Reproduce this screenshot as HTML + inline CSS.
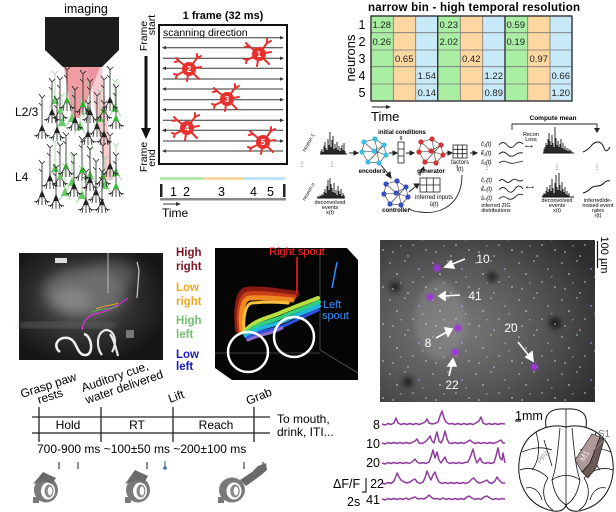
<!DOCTYPE html>
<html><head><meta charset="utf-8"><style>
html,body{margin:0;padding:0;background:#fff;width:616px;height:512px;overflow:hidden}
svg{display:block}
text{font-family:"Liberation Sans",Arial,sans-serif}
</style></head><body>
<svg width="616" height="512" viewBox="0 0 616 512" xmlns="http://www.w3.org/2000/svg">
<defs>
  <symbol id="nr" overflow="visible">
    <path d="M0,-30V0M0,-30l-3,-4M0,-30l3,-3M0,-22l-3,-3M-1,2l-5,7M1,2l5,7M0,2V11M-4,7l-4,1M4,7l4,1M-3,6l-1,5M3,6l1,5" stroke="#222" stroke-width=".8" fill="none"/>
    <path d="M-3,3L0,-4L3,3Z"/>
  </symbol>
  <symbol id="gn" overflow="visible">
    <path d="M0,-26V0M0,-26l-3,-3M0,-26l3,-3M-1,2l-5,6M1,2l5,6" stroke="#9c9" stroke-width=".8" fill="none"/>
    <path d="M-4,4L0,-5L4,4Z" fill="#6c6"/>
  </symbol>
  <symbol id="rn" overflow="visible">
    <path d="M0,0l-10,-8l-3,-3M-10,-8l-4,1M0,0l8,-11l0,-4M8,-11l4,-2M0,0l12,-2M0,0l10,10M0,0l-2,12M0,0l-12,6l-3,-1M-12,6l-1,3" stroke="#e8302c" stroke-width="2" fill="none" stroke-linecap="round"/>
    <circle r="7" fill="#e8302c"/>
  </symbol>
  <symbol id="net" overflow="visible">
    <path d="M-10,-9L1,-12L10,-6L12,4L5,12L-6,11L-12,1Z M-10,-9L0,0L12,4 M1,-12L5,12 M10,-6L-6,11 M0,0L-12,1 M0,0L10,-6" stroke="#333" stroke-width=".6" fill="none"/>
    <circle cx="-10" cy="-9" r="2.6"/><circle cx="1" cy="-12" r="2.6"/><circle cx="10" cy="-6" r="2.6"/><circle cx="12" cy="4" r="2.6"/><circle cx="5" cy="12" r="2.6"/><circle cx="-6" cy="11" r="2.6"/><circle cx="-12" cy="1" r="2.6"/><circle cx="0" cy="0" r="2.6"/>
  </symbol>
  <pattern id="dots" width="43" height="37" patternUnits="userSpaceOnUse">
    <rect x="2" y="3" width="2" height="2" fill="#c0a8d0" opacity=".55"/>
    <rect x="17" y="1" width="2" height="2" fill="#a8d0b0" opacity=".45"/>
    <rect x="9" y="14" width="2" height="2" fill="#ddd0c8" opacity=".5"/>
    <rect x="31" y="9" width="2" height="2" fill="#a8a8e0" opacity=".5"/>
    <rect x="25" y="22" width="2" height="2" fill="#e0b8b8" opacity=".45"/>
    <rect x="38" y="27" width="2" height="2" fill="#c8c8c8" opacity=".5"/>
    <rect x="5" y="29" width="2" height="2" fill="#b8d8c8" opacity=".45"/>
    <rect x="20" y="33" width="2" height="2" fill="#c8b0e0" opacity=".5"/>
    <rect x="13" y="23" width="1.5" height="1.5" fill="#e8e8e8" opacity=".4"/>
    <rect x="35" y="17" width="1.5" height="1.5" fill="#e8e8e8" opacity=".4"/>
  </pattern>
  <radialGradient id="tp" cx="0.35" cy="0.55" r="0.75">
    <stop offset="0" stop-color="#7a7a7a"/><stop offset=".55" stop-color="#555"/><stop offset="1" stop-color="#2e2e2e"/>
  </radialGradient>
  <radialGradient id="ms" cx="0.45" cy="0.45" r="0.6">
    <stop offset="0" stop-color="#5a5a5a"/><stop offset=".6" stop-color="#2e2e2e"/><stop offset="1" stop-color="#161616"/>
  </radialGradient>
  <filter id="bl"><feGaussianBlur stdDeviation="3"/></filter>
  <filter id="bl6"><feGaussianBlur stdDeviation="6"/></filter>
  <filter id="bl2"><feGaussianBlur stdDeviation="1"/></filter>
</defs>

<!-- ============ IMAGING ============ -->
<text x="86" y="13" font-size="12.5" text-anchor="middle">imaging</text>
<path d="M45,17H119V50L102,67H63L45,50Z" fill="#1c1c1c"/>
<polygon points="64,67 100,67 80,118 72,118" fill="#e24a58" opacity=".55"/>
<polygon points="88,67 102,67 113,180 106,180" fill="#eb8f98" opacity=".45"/>
<g>
  <use href="#gn" x="55" y="100"/><use href="#gn" x="72" y="118"/><use href="#gn" x="88" y="110"/><use href="#gn" x="100" y="118"/><use href="#gn" x="115" y="108"/>
  <use href="#gn" x="62" y="122"/><use href="#gn" x="80" y="126"/>
  <use href="#nr" x="42" y="128" fill="#222"/><use href="#nr" x="52" y="112" fill="#222"/><use href="#nr" x="60" y="110" fill="#6c6"/>
  <use href="#nr" x="67" y="100" fill="#3a3"/><use href="#nr" x="75" y="120" fill="#222"/><use href="#nr" x="83" y="104" fill="#2b2"/>
  <use href="#nr" x="90" y="112" fill="#222"/><use href="#nr" x="97" y="126" fill="#222"/><use href="#nr" x="104" y="110" fill="#5a3"/>
  <use href="#nr" x="110" y="100" fill="#222"/><use href="#nr" x="116" y="118" fill="#3b3"/><use href="#nr" x="57" y="130" fill="#222"/>
  <use href="#nr" x="88" y="134" fill="#222"/><use href="#nr" x="104" y="134" fill="#222"/>

  <use href="#gn" x="55" y="168"/><use href="#gn" x="72" y="182"/><use href="#gn" x="90" y="175"/><use href="#gn" x="105" y="185"/><use href="#gn" x="116" y="172"/>
  <use href="#gn" x="65" y="192"/><use href="#gn" x="82" y="195"/>
  <use href="#nr" x="42" y="194" fill="#222"/><use href="#nr" x="50" y="178" fill="#222"/><use href="#nr" x="60" y="176" fill="#6c6"/>
  <use href="#nr" x="66" y="166" fill="#3a3"/><use href="#nr" x="74" y="186" fill="#222"/><use href="#nr" x="82" y="170" fill="#2b2"/>
  <use href="#nr" x="90" y="180" fill="#222"/><use href="#nr" x="96" y="192" fill="#222"/><use href="#nr" x="103" y="176" fill="#5a3"/>
  <use href="#nr" x="110" y="166" fill="#222"/><use href="#nr" x="116" y="186" fill="#3b3"/><use href="#nr" x="56" y="198" fill="#222"/>
  <use href="#nr" x="86" y="202" fill="#222"/><use href="#nr" x="102" y="202" fill="#222"/>
</g>
<text x="15" y="116" font-size="12">L2/3</text>
<text x="15" y="181" font-size="12">L4</text>

<!-- ============ FRAME ============ -->
<text transform="translate(147,36) rotate(-90)" font-size="10.5" text-anchor="middle">Frame</text>
<text transform="translate(155,25) rotate(-90)" font-size="10.5" text-anchor="middle">start</text>
<line x1="146" y1="56" x2="146" y2="130" stroke="#111" stroke-width="3"/>
<polygon points="141,128 151,128 146,139" fill="#111"/>
<text transform="translate(147,157) rotate(-90)" font-size="10.5" text-anchor="middle">Frame</text>
<text transform="translate(155,158) rotate(-90)" font-size="10.5" text-anchor="middle">end</text>
<text x="223" y="19" font-size="11" font-weight="bold" text-anchor="middle">1 frame (32 ms)</text>
<rect x="159" y="25" width="128" height="139" fill="#fff" stroke="#111" stroke-width="2"/>
<text x="163" y="36" font-size="10.5">scanning direction</text>
<g stroke="#333" stroke-width="1">
  <line x1="163" y1="37.7" x2="283" y2="37.7"/><line x1="163" y1="47.7" x2="283" y2="47.7"/>
  <line x1="163" y1="58.3" x2="283" y2="58.3"/><line x1="163" y1="68.3" x2="283" y2="68.3"/>
  <line x1="163" y1="79" x2="283" y2="79"/><line x1="163" y1="89" x2="283" y2="89"/>
  <line x1="163" y1="99.7" x2="283" y2="99.7"/><line x1="163" y1="109.7" x2="283" y2="109.7"/>
  <line x1="163" y1="120.3" x2="283" y2="120.3"/><line x1="163" y1="130.3" x2="283" y2="130.3"/>
  <line x1="163" y1="141" x2="283" y2="141"/><line x1="163" y1="151" x2="283" y2="151"/>
</g>
<g fill="#333">
  <polygon points="284,37.7 280,35.9 280,39.5"/><polygon points="162,47.7 166,45.9 166,49.5"/>
  <polygon points="284,58.3 280,56.5 280,60.1"/><polygon points="162,68.3 166,66.5 166,70.1"/>
  <polygon points="284,79 280,77.2 280,80.8"/><polygon points="162,89 166,87.2 166,90.8"/>
  <polygon points="284,99.7 280,97.9 280,101.5"/><polygon points="162,109.7 166,107.9 166,111.5"/>
  <polygon points="284,120.3 280,118.5 280,122.1"/><polygon points="162,130.3 166,128.5 166,132.1"/>
  <polygon points="284,141 280,139.2 280,142.8"/><polygon points="162,151 166,149.2 166,152.8"/>
</g>
<use href="#rn" x="259" y="54"/><use href="#rn" x="189" y="69"/><use href="#rn" x="227" y="99"/><use href="#rn" x="187" y="128"/><use href="#rn" x="263" y="142"/>
<g fill="#fff" font-size="8" font-weight="bold" text-anchor="middle">
  <text x="259" y="57">1</text><text x="189" y="72">2</text><text x="227" y="102">3</text><text x="187" y="131">4</text><text x="263" y="145">5</text>
</g>
<rect x="160" y="177" width="43" height="3" fill="#b8e6b2"/><rect x="203" y="177" width="40" height="3" fill="#f4d9a2"/><rect x="243" y="177" width="42" height="3" fill="#c0e3f3"/>
<rect x="160" y="184" width="2.5" height="13" fill="#222"/><rect x="283" y="184" width="2.5" height="13" fill="#222"/>
<g font-size="12.5"><text x="170" y="196">1</text><text x="183" y="196">2</text><text x="218" y="196">3</text><text x="250" y="196">4</text><text x="267" y="196">5</text></g>
<rect x="160" y="198" width="126" height="2.5" fill="#888"/>
<line x1="163" y1="204" x2="178" y2="204" stroke="#333" stroke-width="1"/><polygon points="181,204 176,202 176,206" fill="#333"/>
<text x="162" y="217" font-size="12">Time</text>

<!-- ============ TABLE ============ -->
<text x="474" y="11" font-size="11.5" font-weight="bold" text-anchor="middle" textLength="212">narrow bin - high temporal resolution</text>
<g>
  <rect x="371" y="16" width="22.3" height="85" fill="#a9eea3"/><rect x="393.3" y="16" width="22.4" height="85" fill="#fcd7a2"/><rect x="415.7" y="16" width="22" height="85" fill="#c8e9f8"/>
  <rect x="437.7" y="16" width="22.6" height="85" fill="#a9eea3"/><rect x="460.3" y="16" width="22.4" height="85" fill="#fcd7a2"/><rect x="482.7" y="16" width="22.3" height="85" fill="#c8e9f8"/>
  <rect x="505" y="16" width="22.7" height="85" fill="#a9eea3"/><rect x="527.7" y="16" width="22.3" height="85" fill="#fcd7a2"/><rect x="550" y="16" width="22" height="85" fill="#c8e9f8"/>
</g>
<g stroke="#777" stroke-width=".8">
  <line x1="371" y1="32.7" x2="572" y2="32.7"/><line x1="371" y1="50" x2="572" y2="50"/><line x1="371" y1="66.7" x2="572" y2="66.7"/><line x1="371" y1="84" x2="572" y2="84"/>
  <line x1="393.3" y1="16" x2="393.3" y2="101"/><line x1="415.7" y1="16" x2="415.7" y2="101"/><line x1="460.3" y1="16" x2="460.3" y2="101"/><line x1="482.7" y1="16" x2="482.7" y2="101"/><line x1="527.7" y1="16" x2="527.7" y2="101"/><line x1="550" y1="16" x2="550" y2="101"/>
</g>
<g stroke="#333" stroke-width="1.4" fill="none">
  <rect x="371" y="16" width="201" height="85"/><line x1="437.7" y1="16" x2="437.7" y2="101"/><line x1="505" y1="16" x2="505" y2="101"/>
</g>
<g font-size="9.5" fill="#222">
  <text x="372.5" y="28">1.28</text><text x="372.5" y="45">0.26</text><text x="395" y="62">0.65</text><text x="417.5" y="79">1.54</text><text x="417.5" y="96">0.14</text>
  <text x="439.5" y="28">0.23</text><text x="439.5" y="45">2.02</text><text x="462" y="62">0.42</text><text x="484.5" y="79">1.22</text><text x="484.5" y="96">0.89</text>
  <text x="506.5" y="28">0.59</text><text x="506.5" y="45">0.19</text><text x="529.5" y="62">0.97</text><text x="551.5" y="79">0.66</text><text x="551.5" y="96">1.20</text>
</g>
<g font-size="12.5" text-anchor="middle"><text x="362" y="29">1</text><text x="362" y="46">2</text><text x="362" y="63">3</text><text x="362" y="80">4</text><text x="362" y="97">5</text></g>
<text transform="translate(355,58) rotate(-90)" font-size="13" text-anchor="middle">neurons</text>
<line x1="372" y1="107" x2="388" y2="107" stroke="#222" stroke-width="1"/><polygon points="391,107 386,105 386,109" fill="#222"/>
<text x="371" y="121" font-size="13">Time</text>

<!-- ============ LFADS ============ -->
<text transform="translate(305,152) rotate(-60)" font-size="5">neuron 1</text>
<path d="M320,154h27M321,154v-3M322,154v-5M323,154v-2M324,154v-8M325,154v-12M326,154v-6M327,154v-4M328,154v-15M329,154v-9M330,154v-22M331,154v-7M332,154v-14M333,154v-18M334,154v-5M335,154v-10M336,154v-6M337,154v-12M338,154v-4M339,154v-8M340,154v-3M341,154v-6M342,154v-9M343,154v-4M344,154v-11M345,154v-3" stroke="#111" stroke-width=".9"/>
<text x="302" y="166" font-size="6" text-anchor="middle">⋮</text><text x="332" y="166" font-size="6" text-anchor="middle">⋮</text>
<text transform="translate(305,201) rotate(-60)" font-size="5">neuron n</text>
<path d="M317,198h28M318,198v-2M319,198v-1M320,198v-3M321,198v-2M322,198v-4M323,198v-3M324,198v-6M325,198v-9M326,198v-5M327,198v-12M328,198v-18M329,198v-8M330,198v-20M331,198v-14M332,198v-10M333,198v-6M334,198v-15M335,198v-5M336,198v-8M337,198v-3M338,198v-12M339,198v-7M340,198v-4M341,198v-9M342,198v-2M343,198v-5M344,198v-3" stroke="#111" stroke-width=".9"/>
<g font-size="5.5" text-anchor="middle"><text x="330" y="204">deconvolved</text><text x="330" y="209">events</text><text x="330" y="214">x(t)</text></g>

<g stroke="#222" stroke-width="1" fill="#222">
  <line x1="349" y1="153" x2="355" y2="153"/><polygon points="358,153 354,151 354,155"/>
  <line x1="389" y1="153" x2="394" y2="153"/><polygon points="397,153 393,151 393,155"/>
  <line x1="406" y1="153" x2="411" y2="153"/><polygon points="414,153 410,151 410,155"/>
  <line x1="446" y1="153" x2="449" y2="153"/><polygon points="452,153 448,151 448,155"/>
  <line x1="470" y1="153" x2="474" y2="153"/><polygon points="477,153 473,151 473,155"/>
  <line x1="381" y1="165" x2="389" y2="175"/><polygon points="391,178 386,175 390,172"/>
  <line x1="409" y1="192" x2="416" y2="186"/><polygon points="419,184 414,184 417,188"/>
</g>
<use href="#net" x="374" y="151" fill="#3cbfe0"/>
<use href="#net" x="431" y="151" fill="#d63333"/>
<use href="#net" x="396" y="193" fill="#3650c0"/>
<g font-size="6" font-weight="bold" text-anchor="middle">
  <text x="402" y="134">initial conditions</text><text x="372" y="173">encoders</text><text x="431" y="173">generator</text><text x="396" y="212">controller</text>
</g>
<text x="401" y="139" font-size="5" text-anchor="middle">g</text>
<rect x="398" y="142" width="6" height="21" fill="#fff" stroke="#222" stroke-width=".8"/><line x1="398" y1="149" x2="404" y2="149" stroke="#222" stroke-width=".8"/><line x1="398" y1="156" x2="404" y2="156" stroke="#222" stroke-width=".8"/>
<g stroke="#222" stroke-width=".8" fill="#fff">
  <rect x="453" y="145" width="14" height="13"/><path d="M457.7,145v13M462.3,145v13M453,149.3h14M453,153.7h14" fill="none"/>
  <rect x="420" y="178" width="20" height="14"/><path d="M426.7,178v14M433.3,178v14M420,185h20" fill="none"/>
</g>
<g font-size="6" text-anchor="middle"><text x="460" y="164">factors</text><text x="460" y="171">f̂(t)</text><text x="434" y="199">inferred inputs</text><text x="434" y="206">û(t)</text></g>
<path d="M462,175 C462,205 440,215 420,212 C412,211 410,210 409,208" stroke="#222" stroke-width=".9" fill="none"/>
<path d="M420,176 C420,172 421,170 423,168" stroke="#222" stroke-width=".9" fill="none"/><polygon points="424,166 420,170 425,171" fill="#222"/>

<g font-size="6" font-style="italic"><text x="481" y="146">ĉ₁(t)</text><text x="481" y="155">k̂₁(t)</text><text x="481" y="164">ŝ₁(t)</text>
<text x="481" y="182">ĉₙ(t)</text><text x="481" y="191">k̂ₙ(t)</text><text x="481" y="200">ŝₙ(t)</text></g>
<g stroke="#222" stroke-width=".9" fill="none">
  <path d="M499,145 q4,-5 8,0 t8,0 t8,-1"/><path d="M499,154 q4,-4 8,0 t8,1 t8,-2"/><path d="M499,163 q4,-3 8,-1 t8,1 t8,-2"/>
  <path d="M499,181 q3,-3 6,0 t6,0 t6,-1 t6,0"/><path d="M499,190 q4,-5 8,0 t8,-1 t8,0"/><path d="M499,199 q4,-4 8,-1 t8,-1 t8,-2"/>
  <path d="M512,130V124H597V128"/>
</g>
<polygon points="597,133 594,128 600,128" fill="#222"/>
<text x="553" y="120" font-size="6.5" font-weight="bold" text-anchor="middle">Compute mean</text>
<g font-size="5.5" text-anchor="middle"><text x="531" y="136">Recon</text><text x="531" y="141">Loss</text><text x="529" y="148">⟷</text><text x="530" y="189">⟷</text></g>
<path d="M543,153h31M544,153v-4M545,153v-6M546,153v-10M547,153v-8M548,153v-14M549,153v-20M550,153v-12M551,153v-8M552,153v-18M553,153v-10M554,153v-6M555,153v-26M556,153v-15M557,153v-8M558,153v-12M559,153v-6M560,153v-9M561,153v-14M562,153v-5M563,153v-10M564,153v-4M565,153v-7M566,153v-3M567,153v-5M568,153v-2M569,153v-4M570,153v-2M571,153v-3" stroke="#111" stroke-width=".9"/>
<path d="M542,197h32M543,197v-2M544,197v-4M545,197v-3M546,197v-6M547,197v-10M548,197v-5M549,197v-8M550,197v-12M551,197v-6M552,197v-18M553,197v-9M554,197v-4M555,197v-14M556,197v-22M557,197v-10M558,197v-7M559,197v-24M560,197v-12M561,197v-6M562,197v-15M563,197v-8M564,197v-5M565,197v-10M566,197v-3M567,197v-6M568,197v-2M569,197v-4" stroke="#111" stroke-width=".9"/>
<path d="M583,152 q5,-2 8,-6 t7,-4 t6,6 t6,-1" stroke="#111" stroke-width="1" fill="none"/>
<path d="M583,193 q4,-1 7,-4 t7,-3 t7,-3 t6,-2" stroke="#111" stroke-width="1" fill="none"/>
<g font-size="6" text-anchor="middle"><text x="487" y="169">⋮</text><text x="557" y="169">⋮</text><text x="597" y="169">⋮</text></g>
<g font-size="5.5" text-anchor="middle">
  <text x="496" y="207">inferred ZIG</text><text x="496" y="212">distributions</text>
  <text x="557" y="202">deconvolved</text><text x="557" y="207">events</text><text x="557" y="212">x(t)</text>
  <text x="598" y="202">inferred/de-</text><text x="598" y="207">noised event</text><text x="598" y="212">rates</text><text x="598" y="217">r̂(t)</text>
</g>

<!-- ============ MOUSE PHOTO ============ -->
<rect x="19" y="253" width="144" height="107" fill="url(#ms)"/>
<g filter="url(#bl6)">
  <ellipse cx="85" cy="292" rx="42" ry="24" fill="#8a8a8a" opacity=".55"/>
  <ellipse cx="112" cy="274" rx="26" ry="14" fill="#777" opacity=".5"/>
  <ellipse cx="70" cy="300" rx="18" ry="12" fill="#9a9a9a" opacity=".5"/>
</g>
<g filter="url(#bl)">
  <rect x="20" y="322" width="95" height="6" fill="#6a6a6a" opacity=".6"/>
</g>
<rect x="55" y="258" width="12" height="5" fill="#ddd"/>
<line x1="108" y1="253" x2="108" y2="293" stroke="#bbb" stroke-width="1"/>
<path d="M137,262 L139,270 L137,298" stroke="#ccc" stroke-width="1.2" fill="none"/>
<path d="M60,352 C52,346 58,336 68,338 C78,340 76,356 86,355 C94,354 92,336 84,334" stroke="#f2f2f2" stroke-width="2.5" fill="none"/>
<path d="M102,355 C96,348 96,332 106,330 C116,330 117,345 112,352 M110,334 C114,340 116,348 118,356" stroke="#e8e8e8" stroke-width="2.2" fill="none"/>
<rect x="126" y="330" width="8" height="8" fill="#777"/>
<path d="M82,330 C84,312 98,315 108,310 C118,306 122,302 128,298" stroke="#d030d0" stroke-width="1.3" fill="none"/>
<path d="M92,312 C100,308 112,310 118,306" stroke="#60b060" stroke-width="1" fill="none"/>
<path d="M96,309 C104,305 112,306 118,303" stroke="#e0a020" stroke-width="1" fill="none"/>

<g font-size="11.5" font-weight="bold">
  <text x="176" y="256" fill="#7d1424">High</text><text x="176" y="270" fill="#7d1424">right</text>
  <text x="176" y="291" fill="#f0a81c">Low</text><text x="176" y="305" fill="#f0a81c">right</text>
  <text x="176" y="324" fill="#70c070">High</text><text x="176" y="338" fill="#70c070">left</text>
  <text x="176" y="358" fill="#1818c8">Low</text><text x="176" y="370" fill="#1818c8">left</text>
</g>

<!-- ============ 3D TRAJECTORIES ============ -->
<polygon points="215,248 347,248 358,260 358,380 232,380 215,368" fill="#050505"/>
<g stroke="#555" stroke-width=".8" fill="none">
  <path d="M320,249V350L358,373M215,353H320"/>
</g>
<g fill="none" stroke-linecap="round">
  <path d="M238,330 C236,310 238,292 246,290 C262,288 280,292 296,294" stroke="#8b1a10" stroke-width="6"/>
  <path d="M240,330 C238,312 240,296 248,294 C262,292 280,296 294,297" stroke="#c84018" stroke-width="5"/>
  <path d="M242,330 C240,314 242,299 250,298 C264,297 280,299 292,300" stroke="#f08a20" stroke-width="5"/>
  <path d="M244,330 C243,318 245,304 252,303 C264,302 278,302 288,303" stroke="#f8c040" stroke-width="3"/>
  <path d="M244,332 C256,318 270,318 282,312 C296,306 308,302 318,298" stroke="#b8e040" stroke-width="4"/>
  <path d="M245,334 C258,322 272,322 284,316 C298,310 310,306 319,302" stroke="#30d080" stroke-width="4"/>
  <path d="M246,336 C259,326 274,326 286,320 C299,314 310,310 319,306" stroke="#20b8e0" stroke-width="4"/>
  <path d="M247,338 C260,330 276,330 288,324 C300,318 310,314 318,310" stroke="#3050e0" stroke-width="3"/>
  <path d="M248,340 C260,334 272,334 282,328" stroke="#9070d0" stroke-width="3"/>
</g>
<circle cx="248" cy="352" r="20" fill="none" stroke="#fff" stroke-width="2.5"/>
<circle cx="294" cy="337" r="20" fill="none" stroke="#fff" stroke-width="2.5"/>
<line x1="297" y1="257" x2="297" y2="293" stroke="#ff2020" stroke-width="1.5"/>
<text x="297" y="255" font-size="11" fill="#ff2a2a" text-anchor="middle">Right spout</text>
<line x1="337" y1="262" x2="332" y2="288" stroke="#3090ff" stroke-width="1.5"/>
<text x="323" y="308" font-size="11" fill="#3090ff">Left</text>
<text x="322" y="319" font-size="11" fill="#3090ff">spout</text>

<!-- ============ TWO-PHOTON ============ -->
<rect x="380" y="240" width="215" height="162" fill="url(#tp)"/>
<g filter="url(#bl)">
  <circle cx="492" cy="277" r="4" fill="#111"/><circle cx="555" cy="323" r="5" fill="#111"/><circle cx="395" cy="287" r="5" fill="#1a1a1a"/><circle cx="408" cy="382" r="5" fill="#1a1a1a"/>
  <ellipse cx="440" cy="320" rx="25" ry="40" fill="#999" opacity=".35"/>
</g>
<rect x="380" y="240" width="215" height="162" fill="url(#dots)"/>
<g fill="#a030e0" filter="url(#bl2)">
  <circle cx="437" cy="268" r="3.5"/><circle cx="430" cy="297" r="3.5"/><circle cx="458" cy="328" r="3.5"/><circle cx="455" cy="352" r="3.5"/><circle cx="534" cy="367" r="3.5"/>
</g>
<g stroke="#fff" stroke-width="1.6" fill="#fff">
  <line x1="465" y1="259" x2="450" y2="265"/><polygon points="445,267 451,261 454,268"/>
  <line x1="460" y1="295" x2="444" y2="296"/><polygon points="439,296 445,292 445,300"/>
  <line x1="436" y1="338" x2="447" y2="332"/><polygon points="452,329 445,328 448,336"/>
  <line x1="449" y1="376" x2="452" y2="364"/><polygon points="453,359 448,366 456,366"/>
  <line x1="518" y1="342" x2="530" y2="357"/><polygon points="533,361 526,357 532,352"/>
</g>
<g fill="#fff" font-size="12" text-anchor="middle">
  <text x="483" y="263">10</text><text x="475" y="300">41</text><text x="428" y="347">8</text><text x="452" y="389">22</text><text x="511" y="332">20</text>
</g>
<line x1="597.5" y1="241" x2="597.5" y2="268" stroke="#111" stroke-width="1.2"/>
<text transform="translate(601,255) rotate(90)" font-size="11" text-anchor="middle">100 µm</text>

<!-- ============ TIMELINE ============ -->
<g font-size="12">
  <text transform="translate(22,398) rotate(-18)">Grasp paw</text>
  <text transform="translate(39,404) rotate(-18)">rests</text>
  <text transform="translate(83,392) rotate(-19)">Auditory cue,</text>
  <text transform="translate(87,404) rotate(-19)">water delivered</text>
  <text transform="translate(170,403) rotate(-20)">Lift</text>
  <text transform="translate(248,405) rotate(-22)">Grab</text>
</g>
<line x1="32" y1="417" x2="270" y2="417" stroke="#777" stroke-width="2"/>
<line x1="32" y1="433" x2="270" y2="433" stroke="#444" stroke-width="1.5"/>
<g stroke="#222" stroke-width="1.3">
  <line x1="39" y1="407" x2="39" y2="442"/><line x1="101" y1="407" x2="101" y2="442"/><line x1="173" y1="407" x2="173" y2="442"/><line x1="254" y1="407" x2="254" y2="442"/>
</g>
<g font-size="12" text-anchor="middle"><text x="68" y="429">Hold</text><text x="137" y="429">RT</text><text x="216" y="429">Reach</text></g>
<text x="277" y="423" font-size="12">To mouth,</text>
<text x="277" y="436" font-size="12">drink, ITI...</text>
<text x="37" y="453" font-size="12">700-900 ms ~100±50 ms  ~200±100 ms</text>
<g stroke="#444" stroke-width="1.2">
  <line x1="59" y1="462" x2="59" y2="469"/><line x1="78" y1="462" x2="78" y2="469"/><line x1="147" y1="462" x2="147" y2="469"/><line x1="244" y1="462" x2="244" y2="469"/><line x1="263" y1="462" x2="263" y2="469"/>
  <line x1="165" y1="461" x2="165" y2="467" stroke="#4a6aa0"/>
</g>
<circle cx="165" cy="468" r="1.8" fill="#3a6ab0"/>
<g>
  <ellipse cx="46" cy="490" rx="12" ry="12.5" fill="#7a7a7a"/>
  <ellipse cx="48" cy="491" rx="7" ry="8.5" fill="#fff"/>
  <ellipse cx="49" cy="491" rx="4.5" ry="6.5" fill="#8a8a8a"/>
  <ellipse cx="50" cy="491" rx="2.3" ry="4.5" fill="#fff"/>
  <rect x="33" y="497" width="6" height="6" fill="#7a7a7a"/>
  <polygon points="33,484 43,472 56,478 52,484 44,481" fill="#6a6a6a"/>

  <ellipse cx="138" cy="490" rx="12" ry="12.5" fill="#7a7a7a"/>
  <ellipse cx="140" cy="491" rx="7" ry="8.5" fill="#fff"/>
  <ellipse cx="141" cy="491" rx="4.5" ry="6.5" fill="#8a8a8a"/>
  <ellipse cx="142" cy="491" rx="2.3" ry="4.5" fill="#fff"/>
  <rect x="125" y="497" width="6" height="6" fill="#7a7a7a"/>
  <polygon points="125,484 135,470 148,476 144,483 136,480" fill="#6a6a6a"/>

  <ellipse cx="232" cy="490" rx="13" ry="12.5" fill="#7a7a7a"/>
  <ellipse cx="234" cy="491" rx="7.5" ry="8.5" fill="#fff"/>
  <ellipse cx="235" cy="491" rx="4.8" ry="6.5" fill="#8a8a8a"/>
  <ellipse cx="236" cy="491" rx="2.4" ry="4.5" fill="#fff"/>
  <rect x="218" y="497" width="6" height="6" fill="#7a7a7a"/>
  <polygon points="240,480 252,472 258,466 266,463 267,470 260,476 246,486" fill="#6a6a6a"/>
</g>

<!-- ============ TRACES ============ -->
<g stroke="#8e3a9c" stroke-width="1.5" fill="none" stroke-linejoin="round">
  <path d="M382,424 L385,425 388,423.5 391,424.5 394,423 396,418 398,423 401,424.5 404,423.5 407,424.5 410,423.5 413,424.5 416,423.5 419,424.5 422,423.5 425,422 427,419 429,423 432,424 435,423.5 438,422 440,416 442,411 444,418 446,422 449,424 452,423.5 455,424.5 458,423.5 461,424.5 464,423.5 467,424.5 470,423.5 473,424.5 476,423 479,421 481,417 483,423 486,424.5 489,423.5 492,424.5 495,423.5 498,424.5 501,423.5 505,424"/>
  <path d="M382,443 L385,444 388,442.5 391,443.5 394,442.5 397,443.5 400,442.5 403,443.5 406,442.5 409,443.5 412,442.5 415,441 417,439 419,443 422,443.5 425,442 428,439 430,436 432,441 434,443 436,435 437,432 439,441 441,443 443,439 445,431 447,439 449,443 452,443.5 455,442.5 458,443.5 461,442.5 464,443.5 467,442 470,440 472,442 475,443.5 478,442.5 481,443.5 484,442.5 487,443.5 490,442.5 493,443.5 496,442.5 499,441 501,440 503,443 505,443"/>
  <path d="M382,463 L385,464 388,462.5 391,463.5 394,462.5 397,463.5 400,462.5 403,463.5 406,462.5 409,463.5 412,462 415,459 417,462 420,463.5 423,462.5 426,463.5 429,462 431,457 433,450 435,458 437,452 439,460 441,463 443,460 445,457 447,462 450,463.5 453,462.5 456,463.5 459,462.5 462,463.5 465,462.5 468,462 471,455 473,449 475,458 477,463 480,458 482,462 485,463.5 488,462.5 491,463.5 494,462.5 496,456 498,448 500,458 502,460 503,453 505,463"/>
  <path d="M382,483 L385,484 388,482.5 391,483.5 394,481 396,476 397,473 399,477 401,480 404,482 407,483 410,482 413,480 415,479 417,482 420,483.5 423,482 425,478 427,471 429,476 431,480 433,475 435,472 437,478 439,482 442,483.5 445,482.5 448,483.5 451,482.5 454,483.5 457,482.5 460,483.5 463,482.5 466,483.5 469,482 472,479 474,478 476,481 479,483 482,482.5 485,481 487,480 489,482.5 492,483.5 495,481 497,477 499,480 502,483 505,483"/>
  <path d="M382,499 L385,500 388,498.5 391,499.5 394,498.5 397,499.5 400,498.5 403,499.5 406,498 409,499.5 412,498 415,497 418,499 421,498.5 424,499 427,497 429,495 431,497 434,499 437,498.5 440,499.5 443,498 446,499.5 449,498.5 452,499.5 455,498.5 458,499.5 461,498.5 464,499.5 467,497 469,496 472,498 475,499.5 478,498.5 481,499.5 484,497 487,496 490,498 493,499.5 496,498.5 499,499.5 502,498.5 505,499"/>
</g>
<g font-size="12.5" text-anchor="end">
  <text x="380" y="429">8</text><text x="380" y="448">10</text><text x="380" y="467">20</text><text x="384" y="488">22</text><text x="380" y="504">41</text>
</g>
<text x="333" y="488" font-size="12.5">ΔF/F</text>
<path d="M366,478V492H362" stroke="#222" stroke-width="1.2" fill="none"/>
<text x="347" y="506" font-size="12.5">2s</text>

<!-- ============ BRAIN ============ -->
<text x="515" y="420" font-size="12.5">1mm</text>
<line x1="515" y1="421" x2="521" y2="421" stroke="#111" stroke-width="1.2"/>
<g stroke="#111" stroke-width="1" fill="#fff">
  <path d="M546,427 C544,414 550,408 566,409 C582,408 588,414 586,427Z"/>
  <path d="M566,427 C550,423 528,430 521,452 C514,478 524,505 553,511 C561,512 565,509 566,505 C567,509 571,512 579,511 C608,505 618,478 611,452 C604,430 582,423 566,427Z"/>
</g>
<g stroke="#111" stroke-width=".8" fill="none">
  <path d="M566,409V427M566,427V505"/>
  <path d="M560,428 C558,450 556,470 552,480 M572,428 C574,450 576,470 580,480"/>
  <path d="M548,478 C540,490 544,505 553,510 M584,478 C592,490 588,505 579,510"/>
  <path d="M552,480 C560,474 572,474 580,480 C578,492 574,500 566,505 C558,500 554,492 552,480Z"/>
  <path d="M522,452 C532,448 540,446 552,450 M611,452 C601,448 592,446 580,450"/>
  <path d="M520,470 C530,466 540,470 548,478 M613,470 C603,466 592,470 584,478"/>
  <path d="M536,432 C540,445 540,460 532,470 M596,432 C592,445 592,460 600,470"/>
  <path d="M526,488 C534,486 540,492 542,500 M606,488 C598,486 592,492 590,500"/>
  <path d="M544,440 L552,466 M588,440 L580,466"/>
</g>
<polygon points="575,460 592,434 600,437 590,463 582,472" fill="#b09a97" stroke="#111" stroke-width=".6"/>
<polygon points="590,463 600,437 604,440 596,468 588,478 582,472" fill="#6d5957" stroke="#111" stroke-width=".6"/>
<text transform="translate(584,462) rotate(-60)" font-size="8" fill="#eee">M1</text>
<line x1="606" y1="438" x2="592" y2="452" stroke="#888" stroke-width=".8"/>
<text x="598" y="437" font-size="10" fill="#777">S1</text>
<text transform="translate(540,464) rotate(-45)" font-size="7.5" fill="#999">PPC</text>
</svg>
</body></html>
